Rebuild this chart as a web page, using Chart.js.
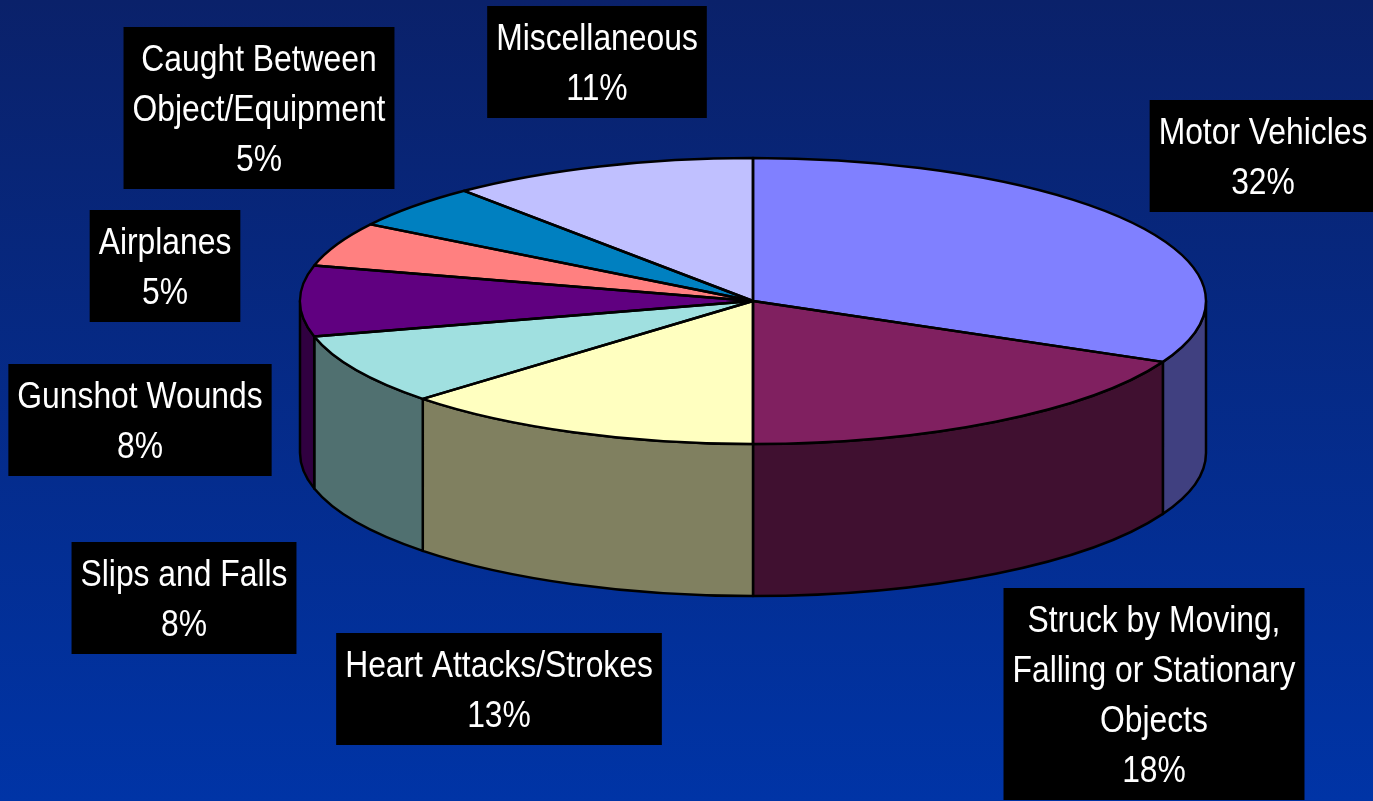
<!DOCTYPE html>
<html>
<head>
<meta charset="utf-8">
<title>Causes of death</title>
<script src="https://cdn.jsdelivr.net/npm/chart.js@4.4.1/dist/chart.umd.min.js"></script>
<style>
    html, body { margin: 0; padding: 0; overflow: hidden; }
    body { width: 1373px; height: 801px; background: linear-gradient(to bottom, #0a216a, #0034a6); }
    canvas { display: block; }
</style>
</head>
<body>
<canvas id="pieChart" width="1373" height="801"></canvas>
<script>
// slices, clockwise from 12 o'clock
const categories = [
    ['Motor Vehicles'],
    ['Struck by Moving,', 'Falling or Stationary', 'Objects'],
    ['Heart Attacks/Strokes'],
    ['Slips and Falls'],
    ['Gunshot Wounds'],
    ['Airplanes'],
    ['Caught Between', 'Object/Equipment'],
    ['Miscellaneous']
];
const shares = [32, 18, 13, 8, 8, 5, 5, 11];
const topColors = ['#8080ff', '#802060', '#ffffc0', '#a0e0e0', '#600080', '#ff8080', '#0080c0', '#c0c0ff'];
const sideColors = ['#404080', '#401030', '#808060', '#507070', '#300040', '#804040', '#004060', '#606080'];

// where the label boxes sit (box centres)
const labelPos = [[1263, 156], [1154, 694], [499, 689], [184, 598], [140, 420], [165, 266], [259, 108], [597, 62]];

// projection of the flat pie onto a tilted disc
const view = { cx: 753, cy: 301, rx: 453, ry: 143, depth: 152 };

function arcProps(arc) {
    return arc.getProps(['x', 'y', 'startAngle', 'endAngle', 'outerRadius'], true);
}

function rimPoint(t, dy) {
    return [view.cx + view.rx * Math.cos(t), view.cy + view.ry * Math.sin(t) + (dy || 0)];
}

const pie3d = {
    id: 'pie3d',
    beforeDatasetsDraw(chart) {
        const ctx = chart.ctx;
        const arcs = chart.getDatasetMeta(0).data;

        // front wall, only the half facing us (0..PI) is visible
        ctx.save();
        ctx.lineWidth = 2.5;
        ctx.strokeStyle = '#000';
        ctx.lineJoin = 'round';
        arcs.forEach((arc, i) => {
            const p = arcProps(arc);
            const t0 = Math.max(p.startAngle, 0);
            const t1 = Math.min(p.endAngle, Math.PI);
            if (t1 <= t0) return;
            ctx.beginPath();
            ctx.ellipse(view.cx, view.cy, view.rx, view.ry, 0, t0, t1);
            const b = rimPoint(t1, view.depth);
            ctx.lineTo(b[0], b[1]);
            ctx.ellipse(view.cx, view.cy + view.depth, view.rx, view.ry, 0, t1, t0, true);
            ctx.closePath();
            ctx.fillStyle = sideColors[i];
            ctx.fill();
            ctx.stroke();
        });
        ctx.restore();

        // squash the pie drawn by Chart.js onto the top face
        const p = arcProps(arcs[0]);
        ctx.save();
        ctx.translate(view.cx, view.cy);
        ctx.scale(view.rx / p.outerRadius, view.ry / p.outerRadius);
        ctx.translate(-p.x, -p.y);
    },
    afterDatasetsDraw(chart) {
        const ctx = chart.ctx;
        ctx.restore();

        const arcs = chart.getDatasetMeta(0).data;
        ctx.save();
        ctx.lineWidth = 2.5;
        ctx.strokeStyle = '#000';
        ctx.lineJoin = 'round';
        arcs.forEach(arc => {
            const p = arcProps(arc);
            const a = rimPoint(p.startAngle);
            ctx.beginPath();
            ctx.moveTo(view.cx, view.cy);
            ctx.lineTo(a[0], a[1]);
            ctx.ellipse(view.cx, view.cy, view.rx, view.ry, 0, p.startAngle, p.endAngle);
            ctx.closePath();
            ctx.stroke();
        });
        ctx.restore();
    },
    afterDraw(chart) {
        const ctx = chart.ctx;
        const squeeze = 0.86;
        const lineH = 50;
        ctx.save();
        ctx.font = '37px "Liberation Sans", Arial, sans-serif';
        ctx.textAlign = 'center';
        ctx.textBaseline = 'alphabetic';
        categories.forEach((name, i) => {
            const lines = name.concat([shares[i] + '%']);
            const w = Math.max(...lines.map(l => ctx.measureText(l).width)) * squeeze + 18;
            const h = lines.length * lineH + 12;
            const x = labelPos[i][0];
            const top = labelPos[i][1] - h / 2;
            ctx.fillStyle = '#000';
            ctx.fillRect(x - w / 2, top, w, h);
            ctx.fillStyle = '#fff';
            lines.forEach((l, k) => {
                ctx.save();
                ctx.translate(x, top + 44 + k * lineH);
                ctx.scale(squeeze, 1);
                ctx.fillText(l, 0, 0);
                ctx.restore();
            });
        });
        ctx.restore();
    }
};

const chart = new Chart(document.getElementById('pieChart').getContext('2d'), {
    type: 'pie',
    data: {
        labels: categories.map(c => c.join(' ')),
        datasets: [{
            data: shares,
            backgroundColor: topColors,
            borderWidth: 0,
            clip: false
        }]
    },
    options: {
        responsive: false,
        animation: false,
        events: [],
        plugins: {
            legend: { display: false },
            tooltip: { enabled: false }
        }
    },
    plugins: [pie3d]
});
</script>
</body>
</html>
